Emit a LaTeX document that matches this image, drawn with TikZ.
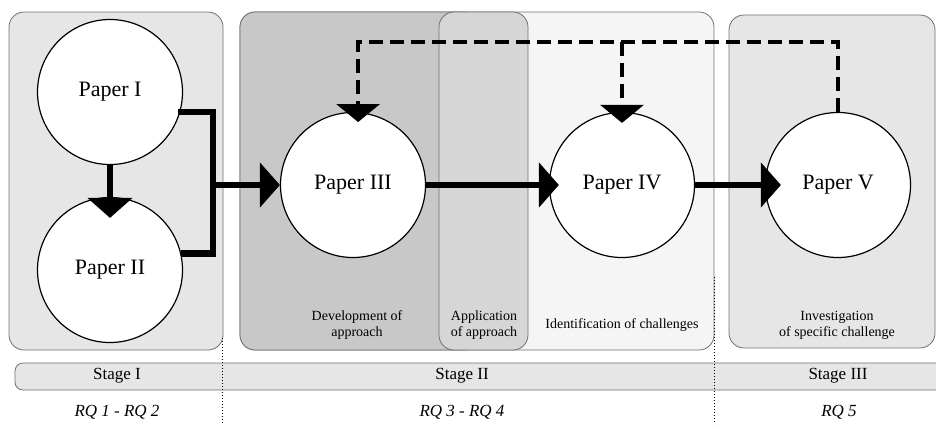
\documentclass[tikz,border=0pt]{standalone}
\usepackage{fontspec}
\setmainfont{Liberation Serif}
\usetikzlibrary{arrows.meta}

\definecolor{panelgray}{HTML}{E6E6E6}
\definecolor{darkpanel}{HTML}{C8C8C8}
\definecolor{midpanel}{HTML}{D6D6D6}
\definecolor{lightpanel}{HTML}{F5F5F5}
\definecolor{edgegray}{HTML}{707070}

\begin{document}
\begin{tikzpicture}[x=1pt, y=-1pt,
		paper/.style={circle, draw=black, line width=1.2pt, fill=white, minimum size=145pt, inner sep=0pt, font=\fontsize{22}{26}\selectfont},
		panel/.style={draw=edgegray, line width=0.8pt, rounded corners=15pt},
		flow/.style={line width=6.5pt, -{Triangle[length=20pt, width=44pt]}},
		feedback/.style={line width=3.5pt, dash pattern=on 14pt off 7pt, -{Triangle[length=18pt, width=43pt]}},
		note/.style={align=center, font=\fontsize{14}{16}\selectfont},
		stagelabel/.style={font=\fontsize{17}{20}\selectfont},
		rqlabel/.style={font=\fontsize{17}{20}\selectfont\itshape}]

		\useasboundingbox (0, 0) rectangle (936, 424);

		% stage panels
		\draw[panel, fill=panelgray]	(9, 12) rectangle (223, 350);
		\draw[panel, fill=lightpanel]	(240, 12) rectangle (714, 350);
		\draw[panel, fill=darkpanel]	(240, 12) rectangle (480, 350);
		\draw[panel, fill=midpanel]	(439, 12) rectangle (528, 350);
		\draw[panel, fill=panelgray]	(729, 15) rectangle (935, 348);

		% stage bar
		\draw[panel, rounded corners=8pt, fill=panelgray]	(936, 363) -- (15, 363) -- (15, 390) -- (936, 390);

		\draw[dotted, line width=1pt]	(222, 338) to (222, 424);
		\draw[dotted, line width=1pt]	(714, 277) to (714, 424);

		% papers
		\node[paper] (p1) at (110, 92) {Paper I};
		\node[paper] (p2) at (110, 270) {Paper II};
		\node[paper] (p3) at (353, 185) {Paper III};
		\node[paper] (p4) at (622, 185) {Paper IV};
		\node[paper] (p5) at (838, 185) {Paper V};

		\coordinate (join) at (213, 185);
		\coordinate (loop) at (0, 42);

		\draw[line width=6.5pt, shorten <=-2pt]	(p1.-16) -- (join |- p1.-16) -- (join |- p2.13) -- (p2.13);
		\draw[line width=6.5pt]	(join |- p1.-16) -- (join);

		\draw[flow]	(join) to (p3);
		\draw[flow, shorten >=-21pt]	(p1) to (p2);
		\draw[flow, shorten >=-10pt]	(p3) to (p4);
		\draw[flow, shorten >=-16pt]	(p4) to (p5);

		\draw[feedback, shorten >=-10pt]	(p5.north) -- (p5.north |- loop) -- (p3.86 |- loop) -- (p3.86);
		\draw[feedback, shorten >=-11pt]	(p4.north |- loop) -- (p4.north);

		% notes
		\node[note] (dev) at (357, 325) {Development of\\approach};
		\node[note] (app) at (484, 325) {Application\\of approach};
		\node[note] (ident) at (622, 325) {Identification of challenges};
		\node[note] (invest) at (837, 325) {Investigation\\of specific challenge};

		\node[stagelabel] (s1) at (117, 376) {Stage I};
		\node[stagelabel] (s2) at (462, 376) {Stage II};
		\node[stagelabel] (s3) at (838, 376) {Stage III};

		\node[rqlabel] (rq1) at (117, 412) {RQ 1 - RQ 2};
		\node[rqlabel] (rq2) at (462, 412) {RQ 3 - RQ 4};
		\node[rqlabel] (rq3) at (839, 412) {RQ 5};
	\end{tikzpicture}
\end{document}
